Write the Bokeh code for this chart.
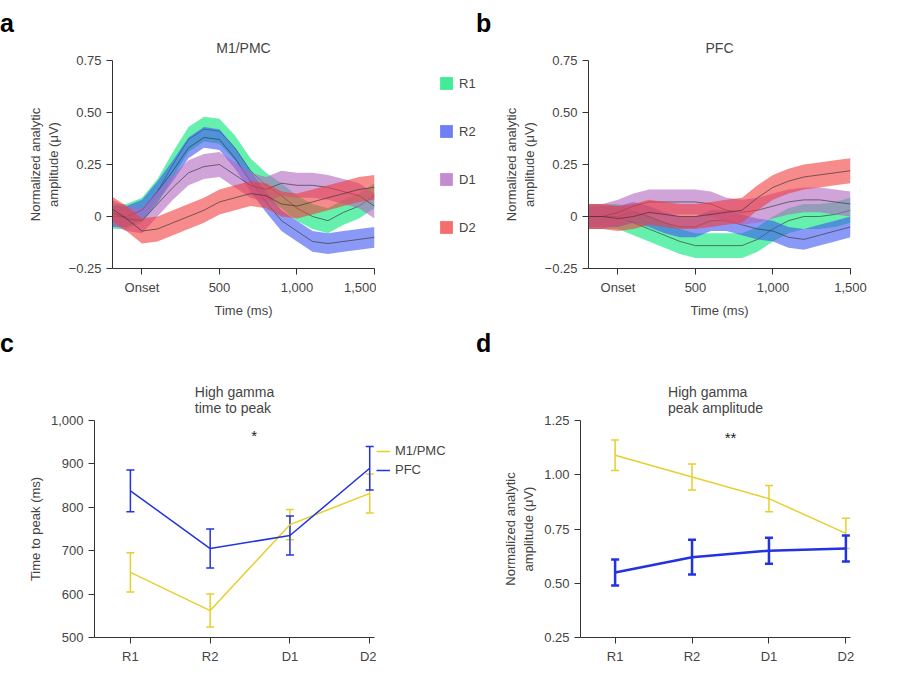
from bokeh.plotting import figure
from bokeh.layouts import column, row
from bokeh.models import Legend, LegendItem, Div, Whisker, ColumnDataSource, TeeHead, Range1d
from bokeh.embed import file_html
from bokeh.resources import INLINE

FONT = "Liberation Sans"

t = [-200, -100, 0, 100, 200, 300, 400, 500, 600, 700, 800, 900, 1000, 1100, 1200, 1300, 1400, 1500]

m1_r1 = [0.0, 0.0, 0.03, 0.12, 0.25, 0.37, 0.42, 0.41, 0.33, 0.22, 0.15, 0.10, 0.04, 0.0, -0.02, 0.02, 0.05, 0.10]
m1_r2 = [0.0, 0.0, 0.03, 0.12, 0.22, 0.33, 0.38, 0.37, 0.28, 0.17, 0.07, -0.02, -0.07, -0.12, -0.13, -0.12, -0.11, -0.10]
m1_d1 = [0.02, -0.01, -0.02, 0.06, 0.14, 0.21, 0.24, 0.25, 0.20, 0.15, 0.13, 0.16, 0.15, 0.15, 0.14, 0.12, 0.10, 0.05]
m1_d2 = [0.04, -0.01, -0.07, -0.06, -0.03, 0.0, 0.03, 0.07, 0.09, 0.11, 0.10, 0.06, 0.05, 0.07, 0.09, 0.11, 0.13, 0.14]

pfc_r1 = [0.0, 0.0, 0.0, -0.03, -0.06, -0.09, -0.12, -0.14, -0.14, -0.14, -0.14, -0.11, -0.06, -0.02, 0.0, 0.0, 0.01, 0.03]
pfc_r2 = [0.0, 0.0, 0.0, 0.02, 0.0, -0.03, -0.05, -0.05, -0.02, -0.02, -0.04, -0.06, -0.07, -0.10, -0.11, -0.09, -0.07, -0.05]
pfc_d1 = [0.0, 0.0, 0.02, 0.05, 0.07, 0.07, 0.07, 0.07, 0.06, 0.03, 0.02, 0.03, 0.05, 0.07, 0.08, 0.08, 0.07, 0.06]
pfc_d2 = [0.0, 0.0, -0.01, 0.0, 0.02, 0.01, 0.0, 0.0, 0.01, 0.02, 0.03, 0.09, 0.14, 0.17, 0.19, 0.20, 0.21, 0.22]

band = {"R1": 0.06, "R2": 0.05, "D1": 0.06, "D2": 0.06}

conds = ["R1", "R2", "D1", "D2"]
ttp_m1 = [650, 562, 760, 832]
ttp_m1_err = [45, 38, 35, 45]
ttp_pfc = [838, 705, 735, 890]
ttp_pfc_err = [48, 45, 45, 50]
amp_m1 = [1.09, 0.99, 0.89, 0.73]
amp_m1_err = [0.07, 0.06, 0.06, 0.07]
amp_pfc = [0.55, 0.62, 0.65, 0.66]
amp_pfc_err = [0.06, 0.08, 0.06, 0.06]

COLORS = {"R1": "#00e676", "R2": "#3d55f0", "D1": "#b066c0", "D2": "#f23c3c"}
YEL = "#e6cf2e"
BLU = "#2233e0"


def style(p, title):
    p.title.text = title
    p.title.align = "center"
    p.title.text_font = FONT
    p.title.text_font_size = "14px"
    p.title.text_font_style = "normal"
    p.xgrid.visible = False
    p.ygrid.visible = False
    p.outline_line_color = None
    for ax in (p.xaxis[0], p.yaxis[0]):
        ax.major_label_text_font = FONT
        ax.major_label_text_font_size = "13px"
        ax.axis_label_text_font = FONT
        ax.axis_label_text_font_size = "13px"
        ax.axis_label_text_font_style = "normal"
        ax.minor_tick_line_color = None
        ax.major_tick_in = 0
        ax.major_tick_out = 6
        ax.axis_line_color = "#333333"
        ax.major_tick_line_color = "#333333"


def letter(s):
    return Div(text=s, width=24, height=34, margin=0,
               styles={"font-family": FONT, "font-size": "25px", "font-weight": "bold", "padding-top": "6px"})


def legend_fig(h, entries, kind, loc, spacing, gsize):
    # an empty figure that only carries a legend; glyph data sits outside the visible range
    p = figure(width=100, height=h, min_border=0, x_range=Range1d(0, 1), y_range=Range1d(0, 1),
               x_axis_location=None, y_axis_location=None, output_backend="svg", toolbar_location=None)
    p.xgrid.visible = False
    p.ygrid.visible = False
    p.outline_line_color = None
    items = []
    for name, color, lw in entries:
        if kind == "area":
            r = p.varea(x=[5, 6], y1=[5, 5], y2=[6, 6], fill_color=color, fill_alpha=0.75)
        else:
            r = p.line(x=[5, 6], y=[5, 5], line_color=color, line_width=lw)
        items.append(LegendItem(label=name, renderers=[r]))
    p.add_layout(Legend(items=items, location=loc, spacing=spacing, glyph_width=gsize, glyph_height=gsize,
                        label_text_font=FONT, label_text_font_size="13px", margin=0, padding=0,
                        background_fill_alpha=0, border_line_color=None))
    return p


def trace_panel(title, series, w, ml, mr):
    p = figure(width=w, height=320, min_border_left=ml, min_border_right=mr,
               min_border_top=60, min_border_bottom=40, x_range=(-190, 1500), y_range=(-0.25, 0.75),
               output_backend="svg", toolbar_location=None)
    style(p, title)
    for name, ys in series:
        lo = [y - band[name] for y in ys]
        hi = [y + band[name] for y in ys]
        p.varea(x=t, y1=lo, y2=hi, fill_color=COLORS[name], fill_alpha=0.6)
        p.line(t, ys, line_color="#333333", line_width=0.8, line_alpha=0.8)
    p.xaxis.ticker = [0, 500, 1000, 1500]
    p.xaxis.major_label_overrides = {0: "Onset", 500: "500", 1000: "1,000", 1500: "1,500"}
    p.yaxis.ticker = [-0.25, 0, 0.25, 0.5, 0.75]
    p.yaxis.major_label_overrides = {-0.25: "\u22120.25", 0: "0", 0.25: "0.25", 0.5: "0.50", 0.75: "0.75"}
    p.xaxis.axis_label = "Time (ms)"
    p.yaxis.axis_label = "Normalized analytic\namplitude (\u03bcV)"
    return p


def summary_panel(title, ym, yme, yp, ype, yr, ticks, overrides, ylabel, star, stars, w, ml, mr, pfc_w):
    x = list(range(4))
    p = figure(width=w, height=346, min_border_left=ml, min_border_right=mr,
               min_border_top=100, min_border_bottom=28, x_range=(-0.45, 3.06), y_range=yr,
               output_backend="svg", toolbar_location=None)
    style(p, title)
    p.line(x, ym, line_color=YEL, line_width=1.5)
    p.line(x, yp, line_color=BLU, line_width=pfc_w)
    for ys, es, c, lw in ((ym, yme, YEL, 1.5), (yp, ype, BLU, pfc_w)):
        src = ColumnDataSource(dict(x=x, lo=[a - b for a, b in zip(ys, es)], hi=[a + b for a, b in zip(ys, es)]))
        p.add_layout(Whisker(source=src, base="x", lower="lo", upper="hi", line_color=c, line_width=lw,
                             upper_head=TeeHead(size=8, line_color=c, line_width=lw),
                             lower_head=TeeHead(size=8, line_color=c, line_width=lw)))
    p.text(x=[star[0]], y=[star[1]], text=[stars], text_align="center",
           text_baseline="middle", text_font_size="15px", text_color="#222222")
    p.xaxis.ticker = x
    p.xaxis.major_label_overrides = {i: c for i, c in enumerate(conds)}
    p.yaxis.ticker = ticks
    p.yaxis.major_label_overrides = overrides
    p.yaxis.axis_label = ylabel
    return p


pa = trace_panel("M1/PMC", [("R1", m1_r1), ("R2", m1_r2), ("D1", m1_d1), ("D2", m1_d2)], 352, 64, 2)
pb = trace_panel("PFC", [("R1", pfc_r1), ("R2", pfc_r2), ("D1", pfc_d1), ("D2", pfc_d2)], 370, 62, 20)
la = legend_fig(320, [(n, COLORS[n], 0) for n in conds], "area", (62, 33), 32, 16)
pc = summary_panel("High gamma\ntime to peak", ttp_m1, ttp_m1_err, ttp_pfc, ttp_pfc_err, (500, 1000),
                   [500, 600, 700, 800, 900, 1000],
                   {500: "500", 600: "600", 700: "700", 800: "800", 900: "900", 1000: "1,000"},
                   "Time to peak (ms)", (1.55, 965), "*", 352, 60, 2, 1.5)
lc = legend_fig(346, [("M1/PMC", YEL, 1.5), ("PFC", BLU, 1.5)], "line", (0, 160), 4, 14)
pd_ = summary_panel("High gamma\npeak amplitude", amp_m1, amp_m1_err, amp_pfc, amp_pfc_err, (0.25, 1.25),
                    [0.25, 0.5, 0.75, 1.0, 1.25],
                    {0.25: "0.25", 0.5: "0.50", 0.75: "0.75", 1.0: "1.00", 1.25: "1.25"},
                    "Normalized analytic\namplitude (\u03bcV)", (1.5, 1.17), "**", 370, 59, 20, 2.5)

layout = column(row(letter("a"), pa, la, letter("b"), pb), row(letter("c"), pc, lc, letter("d"), pd_))
open("out.html", "w").write(file_html(layout, INLINE))
